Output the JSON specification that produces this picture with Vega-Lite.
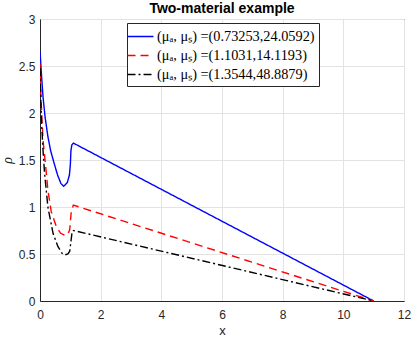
{
  "$schema": "https://vega.github.io/schema/vega-lite/v6.json",
  "width": 364,
  "height": 282,
  "autosize": {"type": "none"},
  "padding": {"left": 40, "top": 19, "right": 8, "bottom": 41},
  "background": "white",
  "title": {"text": "Two-material example", "font": "Liberation Sans", "fontSize": 14, "fontWeight": "bold", "color": "#000000", "anchor": "middle", "frame": "group", "offset": -3},
  "config": {
    "view": {"stroke": "#262626", "strokeWidth": 1},
    "axis": {"labelFont": "Liberation Sans", "labelFontSize": 12, "labelColor": "#262626", "titleFont": "Liberation Sans", "titleFontSize": 13, "titleColor": "#262626", "titleFontWeight": "normal", "domainColor": "#262626", "gridColor": "#e3e3e3", "gridWidth": 1, "tickColor": "#262626", "ticks": false, "labelFlush": false}
  },
  "data": {"values": [
    {"x": 0.0, "y": 2.66, "s": "b"}, {"x": 0.05, "y": 2.4, "s": "b"}, {"x": 0.1, "y": 2.17, "s": "b"}, {"x": 0.17, "y": 1.95, "s": "b"}, {"x": 0.26, "y": 1.75, "s": "b"}, {"x": 0.35, "y": 1.6, "s": "b"}, {"x": 0.47, "y": 1.46, "s": "b"}, {"x": 0.58, "y": 1.34, "s": "b"}, {"x": 0.69, "y": 1.25, "s": "b"}, {"x": 0.78, "y": 1.22, "s": "b"}, {"x": 0.9, "y": 1.26, "s": "b"}, {"x": 0.97, "y": 1.34, "s": "b"}, {"x": 1.0, "y": 1.45, "s": "b"}, {"x": 1.02, "y": 1.6, "s": "b"}, {"x": 1.05, "y": 1.66, "s": "b"}, {"x": 1.1, "y": 1.68, "s": "b"}, {"x": 11.0, "y": 0.0, "s": "b"},
    {"x": 0.0, "y": 2.53, "s": "r"}, {"x": 0.03, "y": 2.2, "s": "r"}, {"x": 0.06, "y": 1.95, "s": "r"}, {"x": 0.1, "y": 1.71, "s": "r"}, {"x": 0.2, "y": 1.39, "s": "r"}, {"x": 0.26, "y": 1.18, "s": "r"}, {"x": 0.37, "y": 0.95, "s": "r"}, {"x": 0.54, "y": 0.79, "s": "r"}, {"x": 0.68, "y": 0.72, "s": "r"}, {"x": 0.81, "y": 0.7, "s": "r"}, {"x": 0.92, "y": 0.71, "s": "r"}, {"x": 0.98, "y": 0.76, "s": "r"}, {"x": 1.03, "y": 0.95, "s": "r"}, {"x": 1.1, "y": 1.02, "s": "r"}, {"x": 11.0, "y": 0.0, "s": "r"},
    {"x": 0.0, "y": 2.48, "s": "k"}, {"x": 0.03, "y": 2.1, "s": "k"}, {"x": 0.06, "y": 1.85, "s": "k"}, {"x": 0.1, "y": 1.6, "s": "k"}, {"x": 0.15, "y": 1.36, "s": "k"}, {"x": 0.26, "y": 1.0, "s": "k"}, {"x": 0.43, "y": 0.72, "s": "k"}, {"x": 0.59, "y": 0.58, "s": "k"}, {"x": 0.72, "y": 0.51, "s": "k"}, {"x": 0.81, "y": 0.49, "s": "k"}, {"x": 0.92, "y": 0.5, "s": "k"}, {"x": 0.98, "y": 0.53, "s": "k"}, {"x": 1.03, "y": 0.66, "s": "k"}, {"x": 1.06, "y": 0.74, "s": "k"}, {"x": 1.1, "y": 0.75, "s": "k"}, {"x": 11.0, "y": 0.0, "s": "k"}
  ]},
  "mark": {"type": "line", "strokeWidth": 1.4, "clip": true},
  "encoding": {
    "x": {"field": "x", "type": "quantitative", "scale": {"domain": [0, 12], "nice": false}, "axis": {"values": [0, 2, 4, 6, 8, 10, 12], "title": "x", "labelPadding": 8, "titlePadding": 4}},
    "y": {"field": "y", "type": "quantitative", "scale": {"domain": [0, 3], "nice": false}, "axis": {"values": [0, 0.5, 1, 1.5, 2, 2.5, 3], "format": "~g", "title": "ρ", "titleFont": "Liberation Serif", "titleFontStyle": "italic", "titleFontSize": 14, "labelPadding": 5, "titlePadding": 4}},
    "color": {"field": "s", "type": "nominal", "scale": {"domain": ["b", "r", "k"], "range": ["#0000ff", "#ff0000", "#000000"]},
      "legend": {"orient": "none", "legendX": 87, "legendY": 4, "title": null, "labelExpr": "datum.value == 'b' ? '(μₐ, μₛ) =(0.73253,24.0592)' : datum.value == 'r' ? '(μₐ, μₛ) =(1.1031,14.1193)' : '(μₐ, μₛ) =(1.3544,48.8879)'", "labelFont": "Liberation Serif", "labelFontSize": 14.3, "labelColor": "#000000", "symbolType": "M-1.5,0H1.5", "symbolSize": 300, "symbolStrokeWidth": 1.5, "symbolFillColor": "transparent", "rowPadding": 2, "padding": 4, "strokeColor": "#262626", "fillColor": "white", "labelOffset": 7}},
    "strokeDash": {"field": "s", "type": "nominal", "scale": {"domain": ["b", "r", "k"], "range": [[1, 0], [8, 5], [8, 3, 2, 3]]}, "legend": null}
  }
}
